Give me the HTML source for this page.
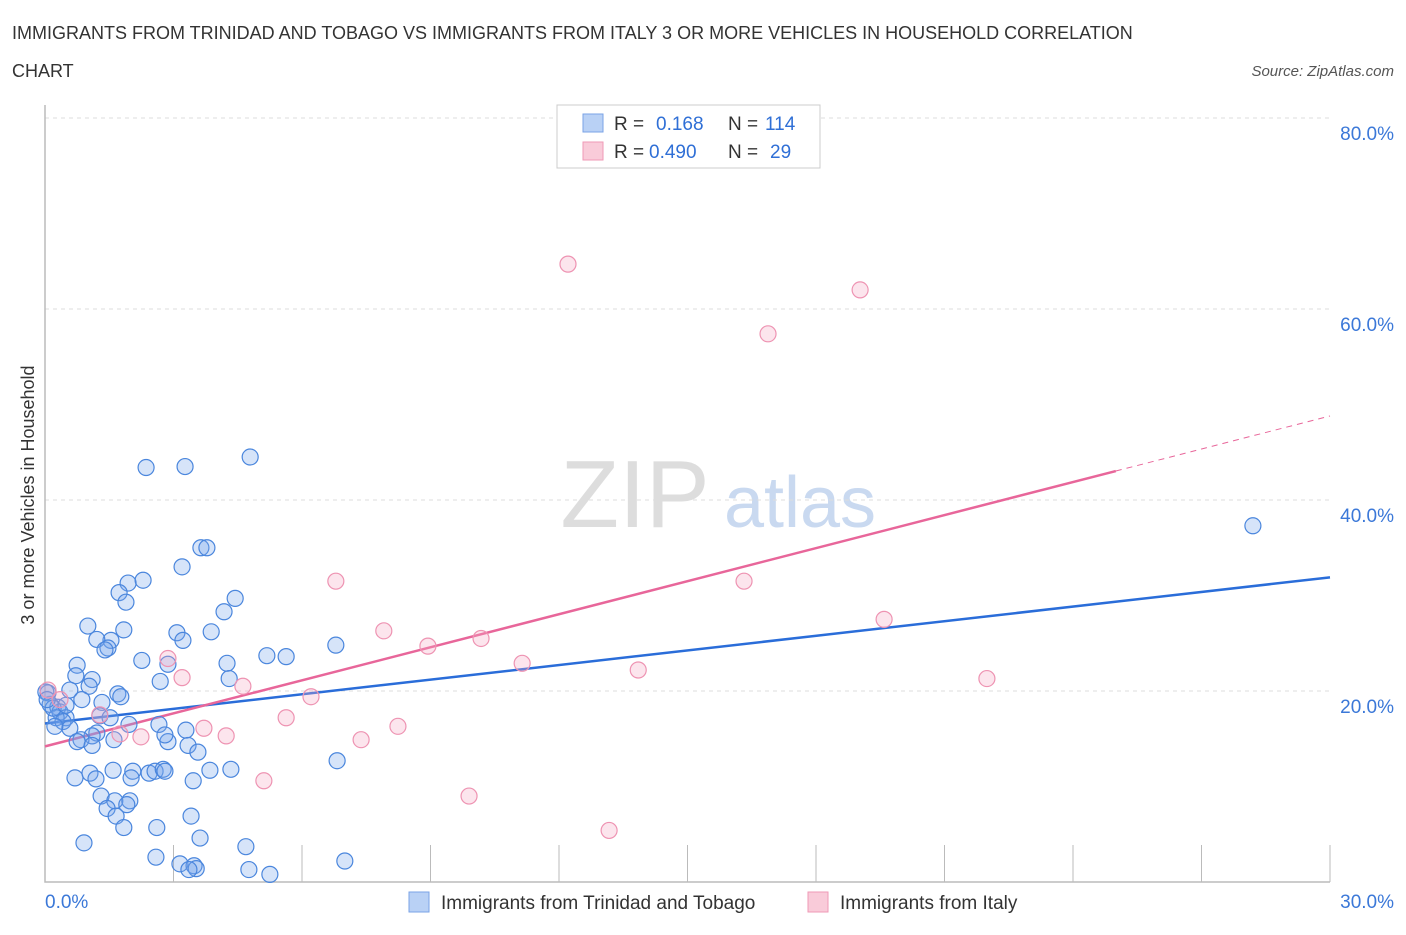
<!DOCTYPE html>
<html><head><meta charset="utf-8"><style>
body{margin:0;background:#fff;font-family:"Liberation Sans",sans-serif;}
svg text{font-family:"Liberation Sans",sans-serif;}
</style></head><body>
<svg id="chart" width="1406" height="930" xmlns="http://www.w3.org/2000/svg">
<text x="12" y="39" font-size="18" fill="#333">IMMIGRANTS FROM TRINIDAD AND TOBAGO VS IMMIGRANTS FROM ITALY 3 OR MORE VEHICLES IN HOUSEHOLD CORRELATION</text>
<text x="12" y="77" font-size="18" fill="#333">CHART</text>
<text x="1394" y="76" font-size="15" fill="#555" text-anchor="end" font-style="italic">Source: ZipAtlas.com</text>
<text transform="translate(34,495) rotate(-90)" font-size="18" fill="#333" text-anchor="middle">3 or more Vehicles in Household</text>
<g><text x="635" y="527" font-size="96" fill="#ddd" font-family="Liberation Serif" text-anchor="middle">ZIP</text><text x="800" y="527" font-size="72" fill="#c9d9f0" text-anchor="middle">atlas</text></g>
<g id="grid"></g><g id="axes"></g><g id="lines"></g><g id="pts"></g>
<g>
<rect x="557" y="105" width="263" height="63" fill="#fff" stroke="#ccc"/>
<rect x="583" y="114" width="20" height="18" fill="#b9d1f5" stroke="#7aa3e6"/>
<text x="614" y="130" font-size="19" fill="#333">R =</text><text x="656" y="130" font-size="19" fill="#2f6fd6">0.168</text>
<text x="728" y="130" font-size="19" fill="#333">N =</text><text x="765" y="130" font-size="19" fill="#2f6fd6">114</text>
<rect x="583" y="142" width="20" height="18" fill="#f9cbd9" stroke="#ef9ab6"/>
<text x="614" y="158" font-size="19" fill="#333">R =</text><text x="649" y="158" font-size="19" fill="#2f6fd6">0.490</text>
<text x="728" y="158" font-size="19" fill="#333">N =</text><text x="770" y="158" font-size="19" fill="#2f6fd6">29</text>
</g>
<g>
<rect x="409" y="892" width="20" height="20" fill="#b9d1f5" stroke="#7aa3e6"/>
<text x="441" y="909" font-size="19" fill="#333">Immigrants from Trinidad and Tobago</text>
<rect x="808" y="892" width="20" height="20" fill="#f9cbd9" stroke="#ef9ab6"/>
<text x="840" y="909" font-size="19" fill="#333">Immigrants from Italy</text>
</g>
</svg>
<script>
const yTicks=[20,40,60,80];
const xTickLabels=["0.0%","30.0%"];
const blueX=[2.36,3.27,4.79,3.64,3.78,3.20,1.94,2.29,1.73,1.89,4.44,4.18,1.00,1.54,1.84,1.21,1.47,1.40,3.08,3.22,3.88,6.79,5.18,5.63,2.26,2.87,4.25,0.75,2.69,0.72,1.10,1.03,4.30,1.70,1.77,0.58,0.86,1.33,0.07,0.12,0.30,0.35,0.49,0.26,0.42,0.58,0.23,1.28,1.52,1.21,1.10,1.61,0.84,0.75,1.10,0.19,0.49,1.96,2.66,3.29,2.87,3.34,3.57,2.80,6.82,0.70,1.05,1.19,1.59,2.05,2.01,2.43,2.57,2.76,2.80,3.46,3.85,4.34,1.31,1.63,1.98,1.45,1.91,1.66,1.84,2.61,3.41,3.62,0.91,2.59,4.69,3.15,3.48,3.53,3.36,4.76,5.25,7.00,28.2,0.02,0.05];
const blueY=[43.4,43.5,44.5,35.0,35.0,33.0,31.3,31.6,30.3,29.3,29.7,28.3,26.8,25.3,26.4,25.4,24.5,24.3,26.1,25.3,26.2,24.8,23.7,23.6,23.2,22.8,22.9,22.7,21.0,21.6,21.2,20.5,21.3,19.7,19.4,20.1,19.1,18.8,19.8,18.6,18.3,17.8,17.2,17.2,16.8,16.1,16.3,17.4,17.2,15.6,15.3,14.9,14.9,14.7,14.3,18.2,18.5,16.5,16.5,15.9,14.7,14.3,13.6,15.4,12.7,10.9,11.4,10.8,11.7,11.6,10.9,11.4,11.6,11.8,11.6,10.6,11.7,11.8,9.0,8.5,8.5,7.7,8.1,6.9,5.7,5.7,6.9,4.6,4.1,2.6,3.7,1.9,1.7,1.4,1.3,1.3,0.8,2.2,37.3,19.9,19.1];
const pinkX=[12.21,19.03,16.88,6.79,16.32,7.91,8.94,10.18,11.14,19.59,13.85,21.99,2.87,3.20,4.62,6.21,5.63,3.71,4.23,2.24,1.75,8.24,7.38,5.11,9.90,13.17,0.07,1.28,0.35];
const pinkY=[64.7,62.0,57.4,31.5,31.5,26.3,24.7,25.5,22.9,27.5,22.2,21.3,23.4,21.4,20.5,19.4,17.2,16.1,15.3,15.2,15.5,16.3,14.9,10.6,9.0,5.4,20.1,17.5,19.1];
const blueTrend=[16.6,31.9];
const pinkTrend=[14.2,48.8];
const pinkSolidEnd=25;
const NS="http://www.w3.org/2000/svg";
const X=v=>45+v/30*1285, Y=v=>882-v*9.55;
function mk(parent,tag,attrs){const e=document.createElementNS(NS,tag);for(const k in attrs)e.setAttribute(k,attrs[k]);document.getElementById(parent).appendChild(e);return e;}
yTicks.forEach(t=>{
 const g=mk('grid','line',{x1:45,x2:1330,y1:Y(t),y2:Y(t),stroke:'#ddd','stroke-dasharray':'4,4'});
 
 
 const l=mk('axes','text',{x:1394,y:Y(t)+22,'font-size':19,fill:'#3b78d8','text-anchor':'end'});
 l.textContent=t.toFixed(1)+'%';
 
 
});
const topLine=mk('grid','line',{x1:45,x2:1330,y1:Y(80),y2:Y(80),stroke:'#ddd','stroke-dasharray':'4,4'});


const ax=mk('axes','path',{d:'M45,105V882H1330',fill:'none',stroke:'#bbb','stroke-width':1.5});


for(let i=1;i<=10;i++){const t=mk('axes','line',{x1:X(i*3),x2:X(i*3),y1:845,y2:882,stroke:'#bbb'});
 
 }
[[0,'start',45],[30,'end',1394]].forEach((a,i)=>{const t=mk('axes','text',{x:a[2],y:908,'font-size':19,fill:'#3b78d8','text-anchor':a[1]});t.textContent=xTickLabels[i];
 
 });
function pts(xs,ys,fill,stroke,name){xs.forEach((x,i)=>{const c=mk('pts','circle',{cx:X(x),cy:Y(ys[i]),r:8,fill:fill,stroke:stroke,'stroke-width':1.2});
 
 });}
pts(blueX,blueY,'rgba(120,165,235,0.3)','#4a86dd','point-trinidad');
pts(pinkX,pinkY,'rgba(245,170,195,0.3)','#ee93b2','point-italy');
const bl=mk('lines','line',{x1:X(0),y1:Y(blueTrend[0]),x2:X(30),y2:Y(blueTrend[1]),stroke:'#2a6dd9','stroke-width':2.5});


const pm=v=>pinkTrend[0]+(pinkTrend[1]-pinkTrend[0])*v/30;
const pl=mk('lines','line',{x1:X(0),y1:Y(pinkTrend[0]),x2:X(pinkSolidEnd),y2:Y(pm(pinkSolidEnd)),stroke:'#e8669a','stroke-width':2.5});


const pd=mk('lines','line',{x1:X(pinkSolidEnd),y1:Y(pm(pinkSolidEnd)),x2:X(30),y2:Y(pinkTrend[1]),stroke:'#e8669a','stroke-width':1,'stroke-dasharray':'6,5'});


</script>
</body></html>
